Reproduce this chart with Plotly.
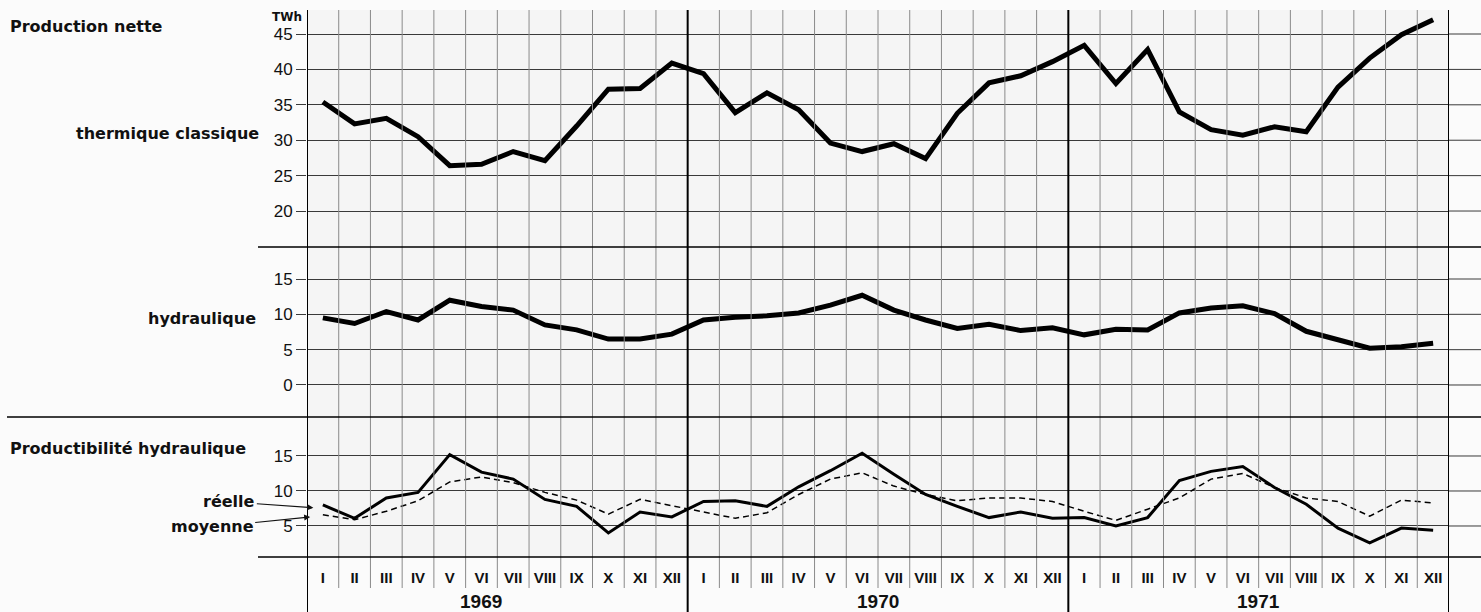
import plotly.graph_objects as go
from plotly.subplots import make_subplots

MONTHS = ["I", "II", "III", "IV", "V", "VI", "VII", "VIII", "IX", "X", "XI", "XII"] * 3
YEARS = ["1969", "1970", "1971"]

# TWh, monthly values
thermique = [35.4, 32.3, 33.1, 30.5, 26.4, 26.6, 28.4, 27.1, 32.0, 37.2, 37.3, 40.9,
             39.4, 33.9, 36.7, 34.3, 29.6, 28.4, 29.5, 27.4, 33.8, 38.1, 39.1, 41.1,
             43.4, 38.0, 42.8, 34.0, 31.5, 30.7, 31.9, 31.2, 37.5, 41.6, 44.9, 47.0]
hydraulique = [9.5, 8.7, 10.4, 9.2, 12.0, 11.1, 10.6, 8.5, 7.8, 6.5, 6.5, 7.2,
               9.2, 9.6, 9.8, 10.2, 11.3, 12.7, 10.6, 9.2, 8.0, 8.6, 7.7, 8.1,
               7.1, 7.9, 7.8, 10.2, 10.9, 11.2, 10.1, 7.6, 6.4, 5.2, 5.4, 5.9]
reelle = [8.0, 6.1, 9.0, 9.8, 15.2, 12.7, 11.7, 8.8, 7.8, 4.0, 7.0, 6.3,
          8.5, 8.6, 7.8, 10.6, 12.9, 15.4, 12.4, 9.5, 7.8, 6.2, 7.0, 6.1,
          6.2, 5.0, 6.2, 11.5, 12.8, 13.5, 10.5, 8.1, 4.7, 2.6, 4.7, 4.4]
moyenne = [6.6, 5.9, 7.1, 8.6, 11.3, 12.0, 11.2, 9.8, 8.7, 6.7, 8.8, 7.9,
           6.9, 6.1, 6.9, 9.5, 11.7, 12.6, 10.7, 9.5, 8.6, 9.0, 9.0, 8.5,
           7.1, 5.8, 7.4, 9.0, 11.7, 12.5, 10.5, 9.0, 8.5, 6.4, 8.7, 8.3]

TICKS_TOP = [20, 25, 30, 35, 40, 45]
TICKS_MID = [0, 5, 10, 15]
TICKS_BOT = [5, 10, 15]

FONT = "Liberation Sans"
LABEL_FONT = "DejaVu Sans"
GRID_V = "#8a8a8a"
GRID_H = "#3a3a3a"

x = [i + 0.5 for i in range(len(MONTHS))]
n = len(MONTHS)

fig = make_subplots(rows=3, cols=1, shared_xaxes=True, vertical_spacing=0)

fig.add_trace(go.Scatter(x=x, y=thermique, mode="lines",
                         line=dict(color="black", width=5)), row=1, col=1)
fig.add_trace(go.Scatter(x=x, y=hydraulique, mode="lines",
                         line=dict(color="black", width=5)), row=2, col=1)
fig.add_trace(go.Scatter(x=x, y=moyenne, mode="lines",
                         line=dict(color="black", width=1.5, dash="6px,4px")), row=3, col=1)
fig.add_trace(go.Scatter(x=x, y=reelle, mode="lines",
                         line=dict(color="black", width=3)), row=3, col=1)

# pixel layout: plot from y=10 to y=557, x from 307 to 1449
H = 547.0
def py(Y):
    return (557 - Y) / H

def px_(X):
    return (X - 307) / 1142.0

xcommon = dict(range=[0, n], tick0=0, dtick=1, showgrid=False, zeroline=False,
               showticklabels=False, ticks="", showline=False)
fig.update_xaxes(**xcommon)
fig.update_xaxes(row=3, col=1, tickmode="array", tickvals=x, ticktext=MONTHS,
                 showticklabels=True, ticklabelstandoff=10,
                 tickfont=dict(family=FONT, size=15, color="#111", weight="bold"))

ycommon = dict(showgrid=True, gridcolor=GRID_H, gridwidth=1, zeroline=False,
               ticks="outside", ticklen=10, tickcolor=GRID_H, showline=False,
               tickfont=dict(family=FONT, size=17, color="#111"))
fig.update_yaxes(**ycommon)
fig.update_yaxes(row=1, col=1, range=[14.92, 48.39], tickvals=TICKS_TOP,
                 domain=[py(247), 1.0])
fig.update_yaxes(row=2, col=1, range=[-4.53, 19.53], tickvals=TICKS_MID,
                 domain=[py(417), py(247)])
fig.update_yaxes(row=3, col=1, range=[0.57, 20.57], tickvals=TICKS_BOT,
                 domain=[0.0, py(417)])

shapes = []
# vertical month grid lines, running through all panels and the label strip
for i in range(n + 1):
    if i % 12 == 0:
        continue
    shapes.append(dict(type="line", xref="x3", yref="paper", x0=i, x1=i,
                       y0=py(10), y1=py(588), line=dict(color=GRID_V, width=1)))
# year separators and frame
for i in range(0, n + 1, 12):
    shapes.append(dict(type="line", xref="x3", yref="paper", x0=i, x1=i,
                       y0=py(10), y1=py(612), line=dict(color="black", width=2)))
# horizontal grid lines continue to the right of the frame
for yref, ticks in (("y", TICKS_TOP), ("y2", TICKS_MID), ("y3", TICKS_BOT)):
    for t in ticks:
        shapes.append(dict(type="line", xref="paper", yref=yref, x0=1.0, x1=px_(1481),
                           y0=t, y1=t, line=dict(color=GRID_H, width=1)))
# panel separators
for Y, X0 in ((247, 258), (417, 7), (557, 258)):
    shapes.append(dict(type="line", xref="paper", yref="paper", x0=px_(X0), x1=px_(1481),
                       y0=py(Y), y1=py(Y), line=dict(color="black", width=1.5)))

bold = dict(family=LABEL_FONT, size=16, color="#111")
annotations = [
    dict(text="<b>Production nette</b>", xref="paper", yref="paper", x=px_(8), y=py(27),
         xanchor="left", yanchor="middle", showarrow=False, font=bold),
    dict(text="<b>TWh</b>", xref="paper", yref="paper", x=px_(304), y=py(17),
         xanchor="right", yanchor="middle", showarrow=False,
         font=dict(family=LABEL_FONT, size=12, color="#111")),
    dict(text="<b>thermique classique</b>", xref="paper", yref="paper", x=px_(261), y=py(133),
         xanchor="right", yanchor="middle", showarrow=False, font=bold),
    dict(text="<b>hydraulique</b>", xref="paper", yref="paper", x=px_(258), y=py(318),
         xanchor="right", yanchor="middle", showarrow=False, font=bold),
    dict(text="<b>Productibilité hydraulique</b>", xref="paper", yref="paper", x=px_(8),
         y=py(448), xanchor="left", yanchor="middle", showarrow=False, font=bold),
    dict(text="<b>réelle</b>", xref="x3", yref="y3", x=0.2, y=7.6,
         ax=-84, ay=-6, axref="pixel", ayref="pixel", showarrow=True,
         arrowhead=2, arrowsize=1, arrowwidth=1.2, arrowcolor="#111", font=bold),
    dict(text="<b>moyenne</b>", xref="x3", yref="y3", x=0.1, y=6.3,
         ax=-98, ay=10, axref="pixel", ayref="pixel", showarrow=True,
         arrowhead=2, arrowsize=1, arrowwidth=1.2, arrowcolor="#111", font=bold),
]
for k, yr in enumerate(YEARS):
    xc = 12 * k + (5.5 if k == 0 else 6)
    annotations.append(dict(text=f"<b>{yr}</b>", xref="x3", yref="paper", x=xc, y=py(601),
                            xanchor="center", yanchor="middle", showarrow=False,
                            font=dict(family=FONT, size=19, color="#111")))

fig.update_layout(
    width=1481, height=612,
    margin=dict(l=307, r=32, t=10, b=55),
    paper_bgcolor="#fbfbfb", plot_bgcolor="#f5f5f5",
    showlegend=False,
    shapes=shapes, annotations=annotations,
)

fig.write_html("out.html", config={"displayModeBar": False},
               post_script="document.body.style.margin='0';")
